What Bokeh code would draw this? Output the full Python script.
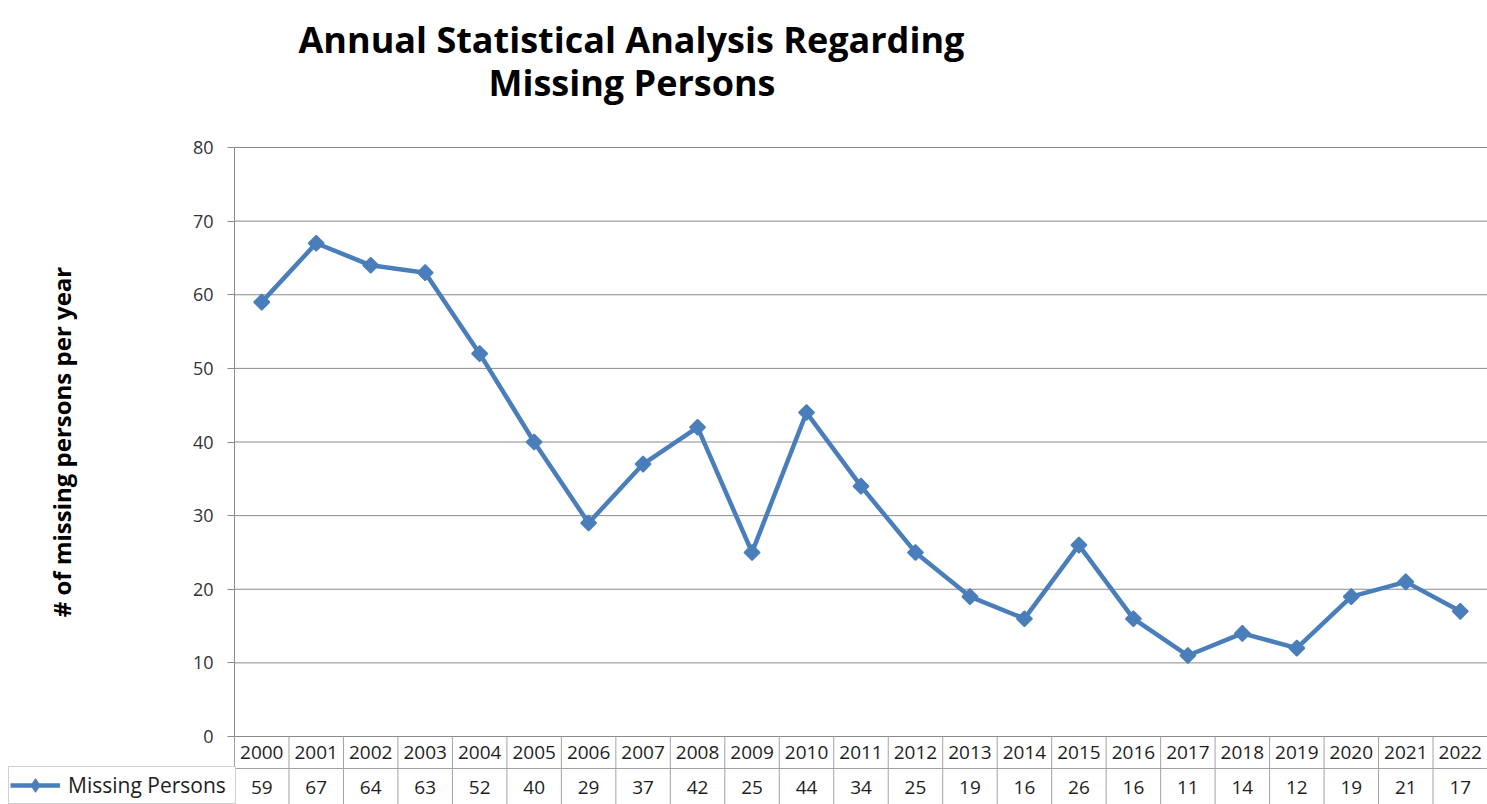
import math
from bokeh.plotting import figure
from bokeh.models import Range1d, FixedTicker, Title, ColumnDataSource, Legend, LegendItem
from bokeh.embed import file_html
from bokeh.resources import INLINE
from bokeh.core.properties import value

# ---------------- data ----------------
years = ["2000", "2001", "2002", "2003", "2004", "2005", "2006", "2007", "2008", "2009", "2010",
         "2011", "2012", "2013", "2014", "2015", "2016", "2017", "2018", "2019", "2020", "2021", "2022"]
missing_persons = [59, 67, 64, 63, 52, 40, 29, 37, 42, 25, 44, 34, 25, 19, 16, 26, 16, 11, 14, 12, 19, 21, 17]
y_ticks = [0, 10, 20, 30, 40, 50, 60, 70, 80]
title_lines = ["Annual Statistical Analysis Regarding", "Missing Persons"]
y_axis_label = "# of missing persons per year"
series_name = "Missing Persons"

# ---------------- styling / layout ----------------
FONT = "Open Sans"
LINE_COLOR = "#4a7ebb"
GRID_COLOR = "#8a8a8a"
BORDER_COLOR = "#a3a3a3"
TEXT_COLOR = "#1e1e1e"

W, H = 1487, 804
AXIS_PX = 234       # pixel column of the value axis
TOP = 106           # frame top edge (px); titles live above it
ZERO_PX = 736       # pixel row of value 0
HDR_PX = 768        # bottom of the header (year) row
PX_PER = (ZERO_PX - 147) / 80.0

n = len(years)
idx = list(range(n))
unit = (W - AXIS_PX) / n
x_lo = -0.5 - AXIS_PX / unit
y_lo = -(H - ZERO_PX) / PX_PER
y_hi = (ZERO_PX - TOP) / PX_PER
y_year = -((ZERO_PX + HDR_PX) / 2 - ZERO_PX) / PX_PER
y_hdr = -(HDR_PX - ZERO_PX) / PX_PER
y_val = -(787 - ZERO_PX) / PX_PER

src = ColumnDataSource(dict(x=idx, y=missing_persons, year=years,
                            label=[str(v) for v in missing_persons],
                            y_year=[y_year] * n, y_val=[y_val] * n))

p = figure(width=W, height=H, output_backend="svg", toolbar_location=None,
           x_range=Range1d(x_lo, n - 0.5), y_range=Range1d(y_lo, y_hi),
           x_axis_location=None,
           min_border_left=0, min_border_right=0, min_border_top=TOP, min_border_bottom=0,
           background_fill_color="white", border_fill_color="white")
p.outline_line_color = None
p.xgrid.visible = False
p.ygrid.visible = False

# titles (index 0 is nearest the frame)
t2 = Title(text=title_lines[1], align="left", offset=488, standoff=0,
           text_font=FONT, text_font_size="36px", text_font_style="bold", text_color="black")
t1 = Title(text=title_lines[0], align="left", offset=298, standoff=0,
           text_font=FONT, text_font_size="36px", text_font_style="bold", text_color="black")
try:
    t1.standoff = -17   # tighten the line spacing of the two title lines
except Exception:
    t1.standoff = 0
p.add_layout(t2, "above")
p.add_layout(t1, "above")

# value axis, drawn at the left edge of the first table column
ya = p.yaxis[0]
ya.fixed_location = -0.5
ya.bounds = (0, 80)
ya.ticker = FixedTicker(ticks=y_ticks)
ya.axis_label = y_axis_label
ya.axis_label_text_font = FONT
ya.axis_label_text_font_size = "24px"
ya.axis_label_text_font_style = "bold"
ya.axis_label_text_color = "black"
ya.axis_label_standoff = 112
ya.major_label_text_font = FONT
ya.major_label_text_font_size = "18px"
ya.major_label_text_color = "#333333"
ya.major_label_standoff = 14
ya.major_tick_out = 7
ya.major_tick_in = 0
ya.minor_tick_out = 0
ya.minor_tick_in = 0
ya.axis_line_color = GRID_COLOR
ya.major_tick_line_color = GRID_COLOR

# horizontal gridlines across the plot area only
p.segment(x0=[-0.5] * len(y_ticks), y0=y_ticks, x1=[n - 0.5] * len(y_ticks), y1=y_ticks,
          line_color=GRID_COLOR, line_width=1)

# ---------------- data table under the chart ----------------
p.segment(x0=[i - 0.5 for i in range(n)], y0=[y_lo] * n,
          x1=[i - 0.5 for i in range(n)], y1=[0] * n,
          line_color=BORDER_COLOR, line_width=1)
p.segment(x0=[-0.5], y0=[y_hdr], x1=[n - 0.5], y1=[y_hdr],
          line_color=BORDER_COLOR, line_width=1)
p.text("x", "y_year", text="year", source=src, text_align="center", text_baseline="middle",
       text_font=value(FONT), text_font_size="19px", text_color=TEXT_COLOR)
p.text("x", "y_val", text="label", source=src, text_align="center", text_baseline="middle",
       text_font=value(FONT), text_font_size="19px", text_color=TEXT_COLOR)

# ---------------- series ----------------
lr = p.line("x", "y", source=src, line_color=LINE_COLOR, line_width=4.5, line_join="round")
sr = p.scatter("x", "y", source=src, marker="square", angle=math.pi / 4, size=11,
               fill_color=LINE_COLOR, line_color=LINE_COLOR, line_width=1.5)
# zero-size diamond markers on the same points: invisible on the chart, they give the legend its key
key = p.scatter("x", "y", source=src, marker="diamond", size=0,
                fill_color=LINE_COLOR, line_color=LINE_COLOR, line_width=1)

# legend key = first cell of the table's value row
leg = Legend(items=[LegendItem(label=series_name, renderers=[lr, key])],
             location=(8, 0), glyph_width=50, glyph_height=34, label_height=34,
             label_width=166, label_standoff=8, padding=1, margin=0, spacing=0,
             border_line_color=BORDER_COLOR, border_line_width=1,
             background_fill_color="white", background_fill_alpha=1,
             label_text_font=FONT, label_text_font_size="21px", label_text_color=TEXT_COLOR)
p.add_layout(leg, "center")

open("out.html", "w").write(file_html(p, INLINE))
